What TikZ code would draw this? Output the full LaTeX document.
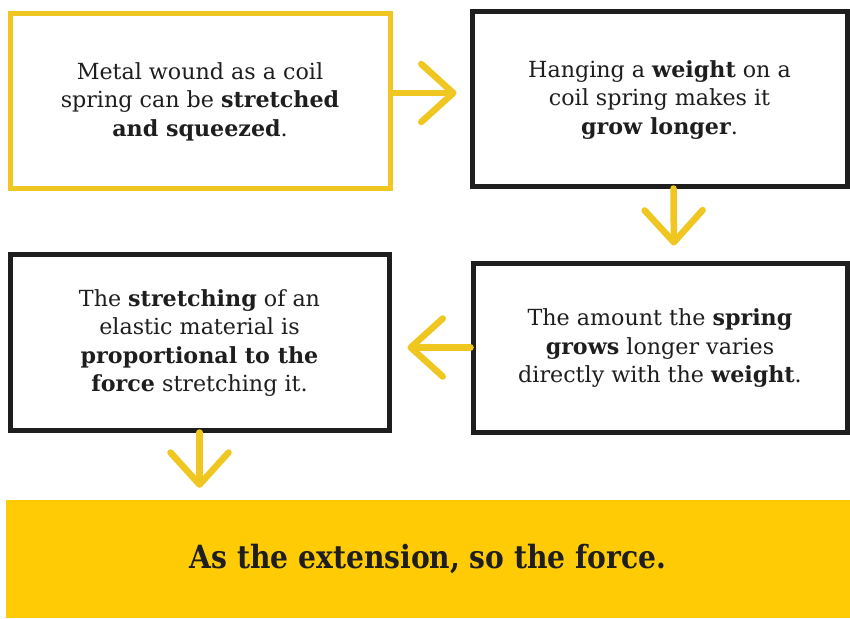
\documentclass[tikz,border=0pt]{standalone}
\usepackage{fontspec}
\setmainfont{DejaVu Serif}
\newfontfamily\headfont[FakeStretch=0.88]{DejaVu Serif}
\usetikzlibrary{arrows.meta}
\definecolor{ybox}{HTML}{F0C620}
\definecolor{yfill}{HTML}{FFCB05}
\definecolor{ink}{HTML}{1E1E1E}
\begin{document}
\begin{tikzpicture}[x=1pt,y=-1pt,
  card/.style={draw=ink, line width=5pt, fill=white, inner sep=0pt, align=center,
    font=\fontsize{22.2}{28.5}\selectfont, text=ink, text depth=3pt},
  ycard/.style={card, draw=ybox},
  flow/.style={draw=ybox, line width=6.5pt, line cap=round,
    -{Straight Barb[length=32pt,width=58pt,line cap=round,line join=round]}}]
\useasboundingbox (0,0) rectangle (850,618);
\node[ycard, minimum width=380pt, minimum height=174pt] (b1) at (200,101)
  {Metal wound as a coil\\spring can be \textbf{stretched}\\\textbf{and squeezed}.};
\node[card, minimum width=375pt, minimum height=174pt] (b2) at (659.5,99)
  {Hanging a \textbf{weight} on a\\coil spring makes it\\\textbf{grow longer}.};
\node[card, minimum width=379pt, minimum height=176pt] (b3) at (199.5,342)
  {The \textbf{stretching} of an\\elastic material is\\\textbf{proportional to the}\\\textbf{force} stretching it.};
\node[card, minimum width=374pt, minimum height=169pt] (b4) at (660,347.5)
  {The amount the \textbf{spring}\\\textbf{grows} longer varies\\directly with the \textbf{weight}.};
\node[fill=yfill, draw=none, minimum width=844pt, minimum height=118pt, inner sep=0pt,
  text=ink, font=\headfont\fontsize{32}{36}\bfseries\selectfont] (b5) at (428,559)
  {As the extension, so the force.};
\draw[flow, shorten >=13pt] (b1.east |- 0,93) -- (b2.west |- 0,93);
\draw[flow, shorten >=15pt] ([xshift=14pt]b2.south) -- ([xshift=14pt]b4.north);
\draw[flow, shorten >=16pt] (b4.west) -- (b3.east |- b4.west);
\draw[flow, shorten >=12pt] (b3.south) -- (b3.south |- b5.north);
\end{tikzpicture}
\end{document}
